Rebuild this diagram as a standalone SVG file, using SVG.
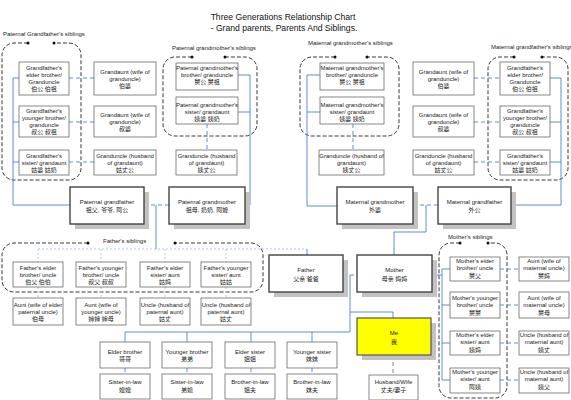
<svg xmlns="http://www.w3.org/2000/svg" width="571" height="400" viewBox="0 0 571 400">
<defs>
<style>
text{font-family:"Liberation Sans","Noto Sans CJK SC",sans-serif;fill:#222}
.t{font-size:6px;text-anchor:middle}
.lbl{font-size:6px}
.title{font-size:8.6px;text-anchor:middle;fill:#111}
.box{fill:#fff;stroke:#6a6a6a;stroke-width:0.8}
.big{fill:#fff;stroke:#444;stroke-width:1.4}
.me{fill:#ffff00;stroke:#555;stroke-width:1.2}
.sh{fill:#c2c2c2}
.grp{fill:none;stroke:#222;stroke-width:0.9;stroke-dasharray:4 2}
.dot{fill:#111}
.ln{fill:none;stroke:#4f7fd2;stroke-width:0.9}
.dl{fill:none;stroke:#4f7fd2;stroke-width:0.9;stroke-dasharray:4 3}
.lt{fill:none;stroke:#a8c0ea;stroke-width:0.9;stroke-dasharray:2 2}
</style>
</defs>
<rect width="571" height="400" fill="#fff"/>
<g id="title">
<text class="title" x="283" y="20">Three Generations Relationship Chart</text>
<text class="title" x="284" y="31">- Grand parents, Parents And Siblings.</text>
</g>
<g id="groups">
<path class="grp" d="M28,43 H14 A12,12 0 0 0 2,55 V168 A12,12 0 0 0 14,180 H69 A12,12 0 0 0 81,168 V55 A12,12 0 0 0 69,43 H54"/>
<circle class="dot" cx="28" cy="43" r="1.5"/><circle class="dot" cx="54" cy="43" r="1.5"/>
<text class="lbl" x="3" y="36">Paternal Grandfather's siblings</text>
<path class="grp" d="M192,57 H175 A12,12 0 0 0 163,69 V124 A12,12 0 0 0 175,136 H245 A12,12 0 0 0 257,124 V69 A12,12 0 0 0 245,57 H225"/>
<circle class="dot" cx="192" cy="57" r="1.5"/><circle class="dot" cx="225" cy="57" r="1.5"/>
<text class="lbl" x="172" y="50">Paternal grandmother's siblings</text>
<path class="grp" d="M335,57 H312 A12,12 0 0 0 300,69 V124 A12,12 0 0 0 312,136 H387 A12,12 0 0 0 399,124 V69 A12,12 0 0 0 387,57 H367"/>
<circle class="dot" cx="335" cy="57" r="1.5"/><circle class="dot" cx="367" cy="57" r="1.5"/>
<text class="lbl" x="308" y="45">Maternal grandmother's siblings</text>
<path class="grp" d="M514,57 H500 A12,12 0 0 0 488,69 V168 A12,12 0 0 0 500,180 H556 A12,12 0 0 0 568,168 V69 A12,12 0 0 0 556,57 H542"/>
<circle class="dot" cx="514" cy="57" r="1.5"/><circle class="dot" cx="542" cy="57" r="1.5"/>
<text class="lbl" x="491" y="49">Maternal grandfather's siblings</text>
<path class="grp" d="M88,243 H14 A12,12 0 0 0 2,255 V280 A12,12 0 0 0 14,292 H251 A12,12 0 0 0 263,280 V255 A12,12 0 0 0 251,243 H175"/>
<circle class="dot" cx="88" cy="243" r="1.5"/><circle class="dot" cx="175" cy="243" r="1.5"/>
<text class="lbl" x="103" y="243">Father's siblings</text>
<path class="grp" d="M460,243 H451 A12,12 0 0 0 439,255 V386 A12,12 0 0 0 451,398 H495 A12,12 0 0 0 507,386 V255 A12,12 0 0 0 495,243 H488"/>
<circle class="dot" cx="460" cy="243" r="1.5"/><circle class="dot" cx="488" cy="243" r="1.5"/>
<text class="lbl" x="448" y="239">Mother's siblings</text>
</g>
<g id="connectors">
<path class="ln" d="M13,78 V205 H70 M13,78 H19 M13,122 H19 M13,162 H19"/>
<path class="dl" d="M69,78 H94 M69,122 H94 M69,162 H94"/>
<path class="dl" d="M144,205 H169"/>
<path class="ln" d="M156,205 V249"/>
<path class="ln" d="M245,205 H250 V75 H238 M250,112 H238"/>
<path class="dl" d="M207,124 V150"/>
<path class="lt" d="M38,249 H307 M38,249 V262 M101,249 V262 M165,249 V262 M226,249 V262"/>
<path class="ln" d="M307,249 V255"/>
<path class="lt" d="M38,287 V298 M101,287 V298 M165,287 V298 M226,287 V298"/>
<path class="ln" d="M337,206 H307 V75 H320 M307,112 H320"/>
<path class="dl" d="M353,124 V150"/>
<path class="dl" d="M413,205 H438"/>
<path class="ln" d="M426,205 V232 H394 V255"/>
<path class="ln" d="M511,205 H561 V78 H550 M561,122 H550 M561,162 H550"/>
<path class="dl" d="M474,78 H500 M474,122 H500 M474,162 H500"/>
<path class="dl" d="M343,275 H357"/>
<path class="ln" d="M350,275 V332 M350,312 H393 V318"/>
<path class="ln" d="M125,332 H350 M125,332 V342 M187,332 V342 M251,332 V342 M312,332 V342"/>
<path class="dl" d="M125,368 V374 M187,368 V374 M251,368 V374 M312,368 V374"/>
<path class="dl" d="M393,355 V375"/>
<path class="ln" d="M432,275 H442 M442,269 V380 M442,269 H450 M442,305 H450 M442,343 H450 M442,380 H450"/>
<path class="dl" d="M500,269 H519 M500,305 H519 M500,343 H519 M500,380 H519"/>
</g>
<g id="pgf-elder-brother"><rect class="box" x="19" y="62" width="50" height="33"/><text class="t" x="44" y="70">Grandfather's<tspan x="44" dy="7">elder brother/</tspan><tspan x="44" dy="7">Granduncle</tspan><tspan x="44" dy="7">伯公 伯祖</tspan></text></g>
<g id="pgf-younger-brother"><rect class="box" x="19" y="106" width="50" height="31"/><text class="t" x="44" y="113">Grandfather's<tspan x="44" dy="7">younger brother/</tspan><tspan x="44" dy="7">granduncle</tspan><tspan x="44" dy="7">叔公 叔祖</tspan></text></g>
<g id="pgf-sister"><rect class="box" x="19" y="150" width="50" height="25"/><text class="t" x="44" y="157.5">Grandfather's<tspan x="44" dy="7">sister/ grandaunt</tspan><tspan x="44" dy="7">姑婆 姑奶</tspan></text></g>
<g id="pgf-elder-brother-wife"><rect class="box" x="94" y="62" width="62" height="33"/><text class="t" x="125" y="73.5">Grandaunt (wife of<tspan x="125" dy="7">granduncle)</tspan><tspan x="125" dy="7">伯婆</tspan></text></g>
<g id="pgf-younger-brother-wife"><rect class="box" x="94" y="106" width="62" height="31"/><text class="t" x="125" y="116.5">Grandaunt (wife of<tspan x="125" dy="7">granduncle)</tspan><tspan x="125" dy="7">叔婆</tspan></text></g>
<g id="pgf-sister-husband"><rect class="box" x="94" y="150" width="62" height="25"/><text class="t" x="125" y="157.5">Granduncle (husband<tspan x="125" dy="7">of grandaunt)</tspan><tspan x="125" dy="7">姑丈公</tspan></text></g>
<g id="pgm-brother"><rect class="box" x="176" y="63" width="62" height="27"/><text class="t" x="207" y="70">Paternal grandmother's<tspan x="207" dy="7">brother/ granduncle</tspan><tspan x="207" dy="7">舅公 舅祖</tspan></text></g>
<g id="pgm-sister"><rect class="box" x="176" y="97" width="62" height="27"/><text class="t" x="207" y="107">Paternal grandmother's<tspan x="207" dy="7">sister/ grandaunt</tspan><tspan x="207" dy="7">姨婆 姨奶</tspan></text></g>
<g id="pgm-sister-husband"><rect class="box" x="176" y="150" width="61" height="25"/><text class="t" x="206.5" y="157.5">Granduncle (husband<tspan x="206.5" dy="7">of grandaunt)</tspan><tspan x="206.5" dy="7">姨丈公</tspan></text></g>
<g id="mgm-brother"><rect class="box" x="320" y="63" width="64" height="27"/><text class="t" x="352" y="70">Maternal grandmother's<tspan x="352" dy="7">brother/ granduncle</tspan><tspan x="352" dy="7">舅公 舅祖</tspan></text></g>
<g id="mgm-sister"><rect class="box" x="320" y="97" width="64" height="27"/><text class="t" x="352" y="107">Maternal grandmother's<tspan x="352" dy="7">sister/ grandaunt</tspan><tspan x="352" dy="7">姨婆 姨奶</tspan></text></g>
<g id="mgm-sister-husband"><rect class="box" x="319" y="150" width="65" height="25"/><text class="t" x="351.5" y="157.5">Granduncle (husband of<tspan x="351.5" dy="7">grandaunt)</tspan><tspan x="351.5" dy="7">姨丈公</tspan></text></g>
<g id="mgf-elder-brother-wife"><rect class="box" x="413" y="62" width="61" height="33"/><text class="t" x="443.5" y="73.5">Grandaunt (wife of<tspan x="443.5" dy="7">granduncle)</tspan><tspan x="443.5" dy="7">伯婆</tspan></text></g>
<g id="mgf-younger-brother-wife"><rect class="box" x="413" y="106" width="61" height="31"/><text class="t" x="443.5" y="116.5">Grandaunt (wife of<tspan x="443.5" dy="7">granduncle)</tspan><tspan x="443.5" dy="7">叔婆</tspan></text></g>
<g id="mgf-sister-husband"><rect class="box" x="413" y="150" width="61" height="25"/><text class="t" x="443.5" y="157.5">Granduncle (husband<tspan x="443.5" dy="7">of grandaunt)</tspan><tspan x="443.5" dy="7">姑丈公</tspan></text></g>
<g id="mgf-elder-brother"><rect class="box" x="500" y="62" width="50" height="33"/><text class="t" x="525" y="70">Grandfather's<tspan x="525" dy="7">elder brother/</tspan><tspan x="525" dy="7">Granduncle</tspan><tspan x="525" dy="7">伯公 伯祖</tspan></text></g>
<g id="mgf-younger-brother"><rect class="box" x="500" y="106" width="50" height="31"/><text class="t" x="525" y="113">Grandfather's<tspan x="525" dy="7">younger brother/</tspan><tspan x="525" dy="7">granduncle</tspan><tspan x="525" dy="7">叔公 叔祖</tspan></text></g>
<g id="mgf-sister"><rect class="box" x="500" y="150" width="50" height="25"/><text class="t" x="525" y="157.5">Grandfather's<tspan x="525" dy="7">sister/ grandaunt</tspan><tspan x="525" dy="7">姑婆 姑奶</tspan></text></g>
<g id="paternal-grandfather"><rect class="sh" x="75" y="192" width="74" height="37"/><rect class="big" x="70" y="187" width="74" height="37"/><text class="t" x="107" y="204">Paternal grandfather<tspan x="107" dy="7.5">祖父, 爷爷, 阿公</tspan></text></g>
<g id="paternal-grandmother"><rect class="sh" x="174" y="192" width="76" height="37"/><rect class="big" x="169" y="187" width="76" height="37"/><text class="t" x="207" y="204">Paternal grandmother<tspan x="207" dy="7.5">祖母, 奶奶, 阿嬷</tspan></text></g>
<g id="maternal-grandmother"><rect class="sh" x="342" y="192" width="76" height="37"/><rect class="big" x="337" y="187" width="76" height="37"/><text class="t" x="375" y="204">Maternal grandmother<tspan x="375" dy="7.5">外婆</tspan></text></g>
<g id="maternal-grandfather"><rect class="sh" x="443" y="192" width="73" height="37"/><rect class="big" x="438" y="187" width="73" height="37"/><text class="t" x="474.5" y="204">Maternal grandfather<tspan x="474.5" dy="7.5">外公</tspan></text></g>
<g id="father-elder-brother"><rect class="box" x="13" y="262" width="50" height="25"/><text class="t" x="38" y="269.5">Father's elder<tspan x="38" dy="7">brother/ uncle</tspan><tspan x="38" dy="7">伯父 伯伯</tspan></text></g>
<g id="father-younger-brother"><rect class="box" x="76" y="262" width="50" height="25"/><text class="t" x="101" y="269.5">Father's younger<tspan x="101" dy="7">brother/ uncle</tspan><tspan x="101" dy="7">叔父 叔叔</tspan></text></g>
<g id="father-elder-sister"><rect class="box" x="140" y="262" width="50" height="25"/><text class="t" x="165" y="269.5">Father's elder<tspan x="165" dy="7">sister/ aunt</tspan><tspan x="165" dy="7">姑妈</tspan></text></g>
<g id="father-younger-sister"><rect class="box" x="201" y="262" width="50" height="25"/><text class="t" x="226" y="269.5">Father's younger<tspan x="226" dy="7">sister/ aunt</tspan><tspan x="226" dy="7">姑姑</tspan></text></g>
<g id="aunt-wife-elder-uncle"><rect class="box" x="13" y="298" width="50" height="27"/><text class="t" x="38" y="307">Aunt (wife of elder<tspan x="38" dy="7">paternal uncle)</tspan><tspan x="38" dy="7">伯母</tspan></text></g>
<g id="aunt-wife-younger-uncle"><rect class="box" x="76" y="298" width="50" height="27"/><text class="t" x="101" y="307">Aunt (wife of<tspan x="101" dy="7">younger uncle)</tspan><tspan x="101" dy="7">婶婶 婶母</tspan></text></g>
<g id="uncle-husband-elder-aunt"><rect class="box" x="140" y="298" width="50" height="27"/><text class="t" x="165" y="307">Uncle (husband of<tspan x="165" dy="7">paternal aunt)</tspan><tspan x="165" dy="7">姑丈</tspan></text></g>
<g id="uncle-husband-younger-aunt"><rect class="box" x="201" y="298" width="50" height="27"/><text class="t" x="226" y="307">Uncle (husband of<tspan x="226" dy="7">paternal aunt)</tspan><tspan x="226" dy="7">姑丈</tspan></text></g>
<g id="father"><rect class="sh" x="274" y="260" width="74" height="37"/><rect class="big" x="269" y="255" width="74" height="37"/><text class="t" x="306" y="272">Father<tspan x="306" dy="8.5">父亲 爸爸</tspan></text></g>
<g id="mother"><rect class="sh" x="362" y="260" width="75" height="37"/><rect class="big" x="357" y="255" width="75" height="37"/><text class="t" x="394.5" y="272">Mother<tspan x="394.5" dy="8.5">母亲 妈妈</tspan></text></g>
<g id="me"><rect class="sh" x="362" y="323" width="74" height="37"/><rect class="me" x="357" y="318" width="74" height="37"/><text class="t" x="394" y="335">Me<tspan x="394" dy="9">我</tspan></text></g>
<g id="husband-wife"><rect class="box" x="369" y="375" width="49" height="25"/><text class="t" x="393.5" y="384">Husband/Wife<tspan x="393.5" dy="8">丈夫/妻子</tspan></text></g>
<g id="elder-brother"><rect class="box" x="100" y="342" width="50" height="26"/><text class="t" x="125" y="354">Elder brother<tspan x="125" dy="7">哥哥</tspan></text></g>
<g id="younger-brother"><rect class="box" x="162" y="342" width="50" height="26"/><text class="t" x="187" y="354">Younger brother<tspan x="187" dy="7">弟弟</tspan></text></g>
<g id="elder-sister"><rect class="box" x="225" y="342" width="50" height="26"/><text class="t" x="250" y="354">Elder sister<tspan x="250" dy="7">姐姐</tspan></text></g>
<g id="younger-sister"><rect class="box" x="287" y="342" width="50" height="26"/><text class="t" x="312" y="354">Younger sister<tspan x="312" dy="7">妹妹</tspan></text></g>
<g id="sister-in-law-1"><rect class="box" x="100" y="374" width="50" height="25"/><text class="t" x="125" y="384">Sister-in-law<tspan x="125" dy="8">嫂嫂</tspan></text></g>
<g id="sister-in-law-2"><rect class="box" x="162" y="374" width="50" height="25"/><text class="t" x="187" y="384">Sister-in-law<tspan x="187" dy="8">弟媳</tspan></text></g>
<g id="brother-in-law-1"><rect class="box" x="225" y="374" width="50" height="25"/><text class="t" x="250" y="384">Brother-in-law<tspan x="250" dy="8">姐夫</tspan></text></g>
<g id="brother-in-law-2"><rect class="box" x="287" y="374" width="50" height="25"/><text class="t" x="312" y="384">Brother-in-law<tspan x="312" dy="8">妹夫</tspan></text></g>
<g id="mother-elder-brother"><rect class="box" x="450" y="257" width="50" height="24"/><text class="t" x="475" y="263">Mother's elder<tspan x="475" dy="7.3">brother/ uncle</tspan><tspan x="475" dy="7.3">舅父</tspan></text></g>
<g id="mother-younger-brother"><rect class="box" x="450" y="292" width="50" height="26"/><text class="t" x="475" y="300">Mother's younger<tspan x="475" dy="7.3">brother/ uncle</tspan><tspan x="475" dy="7.3">舅舅</tspan></text></g>
<g id="mother-elder-sister"><rect class="box" x="450" y="331" width="50" height="24"/><text class="t" x="475" y="337">Mother's elder<tspan x="475" dy="7.3">sister/ aunt</tspan><tspan x="475" dy="7.3">姨妈</tspan></text></g>
<g id="mother-younger-sister"><rect class="box" x="450" y="368" width="50" height="25"/><text class="t" x="475" y="374">Mother's younger<tspan x="475" dy="7.3">sister/ aunt</tspan><tspan x="475" dy="7.3">阿姨</tspan></text></g>
<g id="aunt-wife-maternal-uncle-1"><rect class="box" x="519" y="257" width="50" height="24"/><text class="t" x="544" y="263">Aunt (wife of<tspan x="544" dy="7.3">maternal uncle)</tspan><tspan x="544" dy="7.3">舅妈</tspan></text></g>
<g id="aunt-wife-maternal-uncle-2"><rect class="box" x="519" y="292" width="50" height="26"/><text class="t" x="544" y="300">Aunt (wife of<tspan x="544" dy="7.3">maternal uncle)</tspan><tspan x="544" dy="7.3">舅母</tspan></text></g>
<g id="uncle-husband-maternal-aunt-1"><rect class="box" x="519" y="331" width="50" height="24"/><text class="t" x="544" y="337">Uncle (husband of<tspan x="544" dy="7.3">maternal aunt)</tspan><tspan x="544" dy="7.3">姨丈</tspan></text></g>
<g id="uncle-husband-maternal-aunt-2"><rect class="box" x="519" y="368" width="50" height="25"/><text class="t" x="544" y="374">Uncle (husband of<tspan x="544" dy="7.3">maternal aunt)</tspan><tspan x="544" dy="7.3">姨父</tspan></text></g>
</svg>
